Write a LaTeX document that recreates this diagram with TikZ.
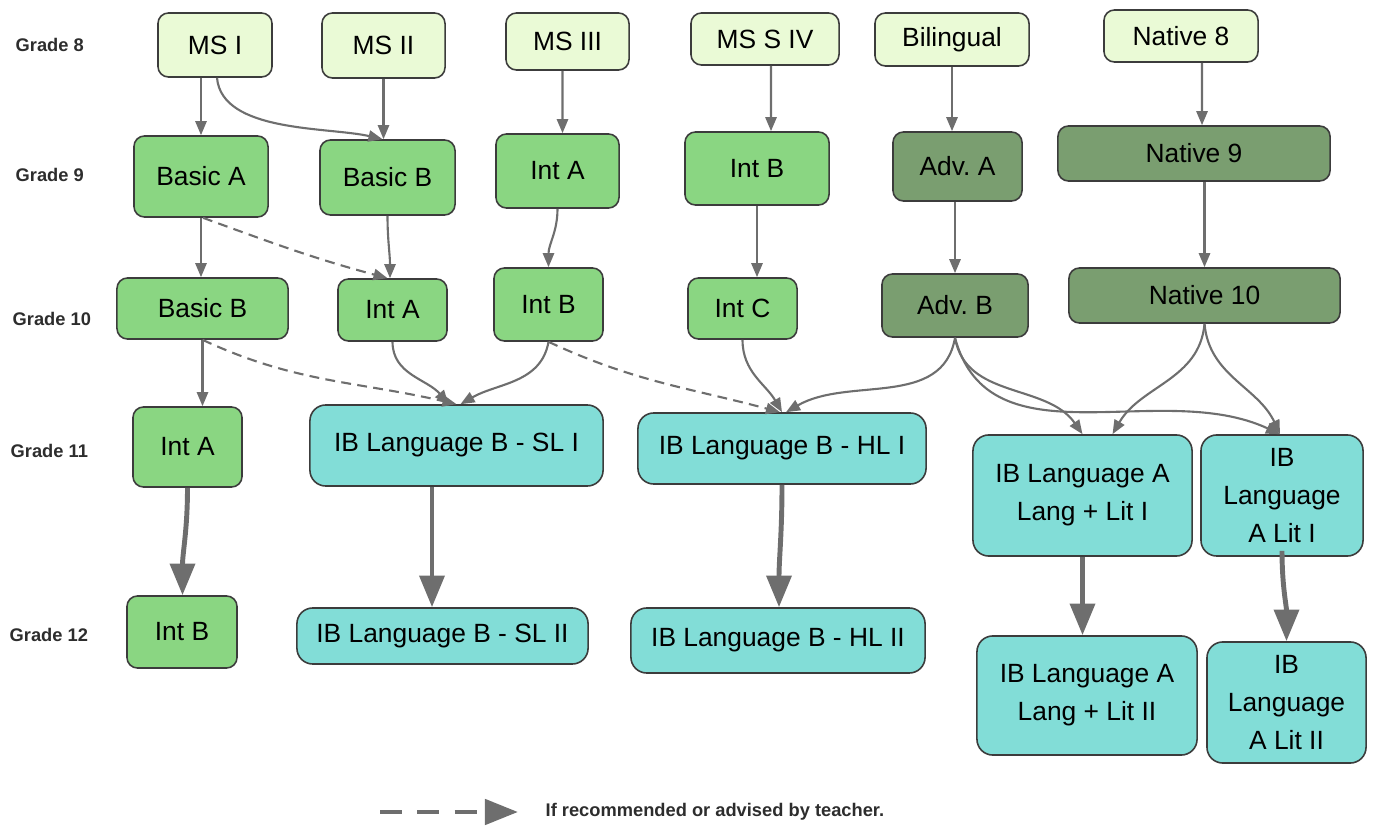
\documentclass[tikz,border=0pt]{standalone}
\usepackage{fontspec}
\setmainfont{Liberation Sans}
\usetikzlibrary{arrows.meta}
\frenchspacing

\definecolor{msFill}{RGB}{234,250,214}
\definecolor{basicFill}{RGB}{138,214,130}
\definecolor{advFill}{RGB}{122,158,112}
\definecolor{ibFill}{RGB}{130,221,215}
\definecolor{boxEdge}{RGB}{60,60,60}
\definecolor{linkGray}{RGB}{110,110,110}
\definecolor{gradeText}{RGB}{45,45,45}

\tikzset{
  course/.style={rectangle, rounded corners=3pt, draw=boxEdge, line width=0.45pt,
    inner sep=1pt, align=center, text=black, font=\fontsize{7.5}{10.8}\selectfont},
  ms/.style={course, fill=msFill},
  basic/.style={course, fill=basicFill},
  adv/.style={course, fill=advFill},
  ib/.style={course, fill=ibFill, rounded corners=4.5pt},
  dims/.style 2 args={minimum width=#1cm, minimum height=#2cm},
  grade/.style={anchor=west, inner sep=0pt, text=gradeText, font=\bfseries\fontsize{5.2}{6}\selectfont},
  link/.style={draw=linkGray, line width=0.6pt, -{Triangle[length=4pt,width=3.2pt]}},
  maybe/.style={link, dash pattern=on 2.8pt off 1.8pt},
  bigLink/.style={draw=linkGray, line width=1.4pt, -{Triangle[length=9pt,width=7pt]}},
  legendLink/.style={draw=linkGray, line width=1.4pt, dash pattern=on 6.3pt off 4.3pt,
    -{Triangle[length=9.4pt,width=7.1pt]}}
}

\begin{document}
\begin{tikzpicture}[x=0.01cm,y=-0.01cm]
    \useasboundingbox (0,0) rectangle (1376,828);

    % Grade labels
    \node[grade] (g8) at (15,45) {Grade 8};
    \node[grade] (g9) at (15,175) {Grade 9};
    \node[grade] (g10) at (12,319) {Grade 10};
    \node[grade] (g11) at (10,451) {Grade 11};
    \node[grade] (g12) at (9,635) {Grade 12};

    % Grade 8
    \node[ms, dims={1.14}{0.64}] (msI) at (215,45) {MS I};
    \node[ms, dims={1.23}{0.65}] (msII) at (383.5,45.5) {MS II};
    \node[ms, dims={1.23}{0.57}] (msIII) at (567.5,41.5) {MS III};
    \node[ms, dims={1.48}{0.52}] (msSIV) at (765,39) {MS S IV};
    \node[ms, dims={1.54}{0.53}] (bilingual) at (952,39.5) {Bilingual};
    \node[ms, dims={1.54}{0.52}] (native8) at (1181,36) {Native 8};

    % Grade 9
    \node[basic, dims={1.34}{0.81}] (basicA) at (201,176.5) {Basic A};
    \node[basic, dims={1.35}{0.75}] (basicB9) at (387.5,177.5) {Basic B};
    \node[basic, dims={1.23}{0.74}] (intA9) at (557.5,171) {Int A};
    \node[basic, dims={1.44}{0.73}] (intB9) at (757,168.5) {Int B};
    \node[adv, dims={1.29}{0.69}] (advA) at (957.5,166.5) {Adv. A};
    \node[adv, dims={2.72}{0.55}] (native9) at (1194,153.5) {Native 9};

    % Grade 10
    \node[basic, dims={1.71}{0.61}] (basicB10) at (202.5,308.5) {Basic B};
    \node[basic, dims={1.09}{0.62}] (intA10) at (392.5,310) {Int A};
    \node[basic, dims={1.09}{0.73}] (intB10) at (548.5,304.5) {Int B};
    \node[basic, dims={1.09}{0.61}] (intC) at (742.5,308.5) {Int C};
    \node[adv, dims={1.46}{0.63}] (advB) at (955,305.5) {Adv. B};
    \node[adv, dims={2.71}{0.55}] (native10) at (1204.5,295.5) {Native 10};

    % Grade 11
    \node[basic, dims={1.09}{0.80}] (intA11) at (187.5,447) {Int A};
    \node[ib, dims={2.93}{0.81}] (slI) at (456.5,445.5) {IB Language B - SL I};
    \node[ib, dims={2.88}{0.71}] (hlI) at (782,448.5) {IB Language B - HL I};
    \node[ib, dims={2.19}{1.21}] (langlitI) at (1082.5,495.5) {IB Language A\\Lang + Lit I};
    \node[ib, dims={1.62}{1.21}] (litI) at (1282,495.5) {IB\\Language\\A Lit I};

    % Grade 12
    \node[basic, dims={1.10}{0.72}] (intB12) at (182,632) {Int B};
    \node[ib, dims={2.91}{0.56}] (slII) at (442.5,636) {IB Language B - SL II};
    \node[ib, dims={2.94}{0.65}] (hlII) at (778,640.5) {IB Language B - HL II};
    \node[ib, dims={2.20}{1.19}] (langlitII) at (1087,695.5) {IB Language A\\Lang + Lit II};
    \node[ib, dims={1.59}{1.21}] (litII) at (1286.5,702.5) {IB\\Language\\A Lit II};

    % Grade 8 to 9
    \draw[link] (basicA.north |- msI.south) -- (basicA.north);
    \draw[link] ([xshift=0.02cm]msI.south) to[out=-85,in=167,looseness=0.8] ([xshift=-0.05cm]basicB9.north);
    \draw[link] (msII.south) -- (msII.south |- basicB9.north);
    \draw[link] ([xshift=-0.05cm]msIII.south) -- ([xshift=0.05cm]intA9.north);
    \draw[link] ([xshift=0.06cm]msSIV.south) -- ([xshift=0.14cm]intB9.north);
    \draw[link] (bilingual.south) -- (bilingual.south |- advA.north);
    \draw[link] ([xshift=0.21cm]native8.south) -- ([xshift=0.08cm]native9.north);

    % Grade 9 to 10
    \draw[link] (basicA.south) -- (basicA.south |- basicB10.north);
    \draw[maybe] ([xshift=0.02cm]basicA.south) to[out=-20,in=165] ([xshift=-0.05cm]intA10.north);
    \draw[link] (basicB9.south) to[out=-90,in=90] ([xshift=-0.025cm]intA10.north);
    \draw[link] (intA9.south) to[out=-90,in=90] (intB10.north);
    \draw[link] (intB9.south) -- (intB9.south |- intC.north);
    \draw[link] (advB.north |- advA.south) -- (advB.north);
    \draw[link] (native10.north |- native9.south) -- (native10.north);

    % Grade 10 to 11
    \draw[link] (basicB10.south) -- (basicB10.south |- intA11.north);
    \draw[maybe] (basicB10.south) to[out=-25,in=167] (slI.north);
    \draw[link] (intA10.south) to[out=-90,in=130] ([xshift=-0.08cm]slI.north);
    \draw[link] (intB10.south) to[out=-100,in=30] ([xshift=0.04cm]slI.north);
    \draw[maybe] (intB10.south) to[out=-25,in=165] ([xshift=-0.02cm]hlI.north);
    \draw[link] (intC.south) to[out=-90,in=120] (hlI.north);
    \draw[link] (advB.south) to[out=-100,in=30] ([xshift=0.04cm]hlI.north);
    \draw[link] (advB.south) to[out=-80,in=125] (langlitI.north);
    \draw[link] (advB.south) to[out=-75,in=155] ([xshift=-0.02cm]litI.north);
    \draw[link] (native10.south) to[out=-95,in=60] ([xshift=0.3cm]langlitI.north);
    \draw[link] (native10.south) to[out=-85,in=115] ([xshift=-0.02cm]litI.north);

    % Grade 11 to 12
    \draw[bigLink] (intA11.south) to[out=-90,in=90] ([xshift=0.005cm]intB12.north);
    \draw[bigLink] ([xshift=-0.105cm]slII.north |- slI.south) -- ([xshift=-0.105cm]slII.north);
    \draw[bigLink] (hlI.south) to[out=-90,in=90] ([xshift=0.01cm]hlII.north);
    \draw[bigLink] (langlitI.south) -- (langlitI.south |- langlitII.north);
    \draw[bigLink] ([yshift=0.06cm]litI.south) to[out=-90,in=90] (litII.north);

    % Legend
    \coordinate (legStart) at (380,812);
    \coordinate (legEnd) at (518,812);
    \draw[legendLink] (legStart) -- (legEnd);
    \node[grade] (legText) at (545,812) {If recommended or advised by teacher.};
\end{tikzpicture}
\end{document}
